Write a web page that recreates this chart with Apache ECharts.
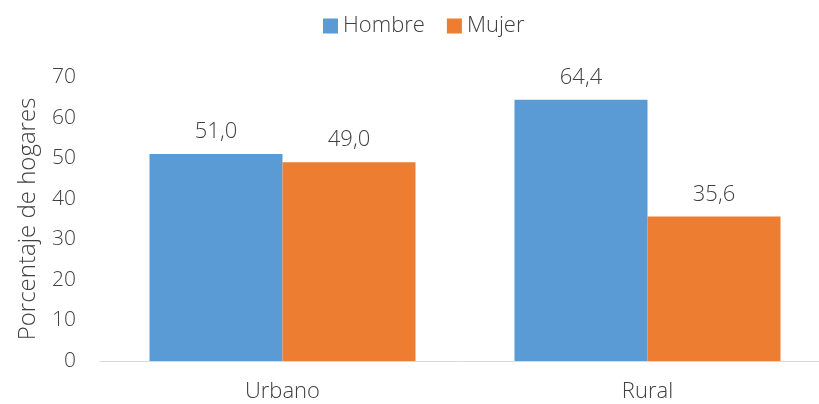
<!DOCTYPE html>
<html>
<head>
<meta charset="utf-8">
<script src="https://cdn.jsdelivr.net/npm/echarts@6/dist/echarts.min.js"></script>
<style>
  html, body { margin: 0; padding: 0; background: #fff; }
  #chart-container { width: 819px; height: 404px; }
</style>
</head>
<body>
<div id="chart-container"></div>
<script>
var categories = ['Urbano', 'Rural'];
var hombre = [51.0, 64.4];
var mujer = [49.0, 35.6];
var yTicks = [0, 10, 20, 30, 40, 50, 60, 70];

var textColor = '#404040';
var fontFamily = '"Open Sans", Lato, sans-serif';

function fmt(p) {
    return p.value.toFixed(1).replace('.', ',');
}

var labelStyle = { color: textColor, fontSize: 22, fontWeight: 300, fontFamily: fontFamily };

var option = {
    animation: false,
    textStyle: { fontFamily: fontFamily },
    color: ['#5B9BD5', '#ED7D31'],
    legend: {
        top: 10,
        left: 318,
        itemWidth: 15,
        itemHeight: 15,
        itemGap: 22,
        icon: 'rect',
        textStyle: { color: textColor, fontSize: 22, fontWeight: 300, fontFamily: fontFamily }
    },
    grid: {
        left: 100,
        width: 730,
        top: 77,
        bottom: 43,
        outerBoundsMode: 'none'
    },
    xAxis: {
        type: 'category',
        data: categories,
        axisLine: { lineStyle: { color: '#D9D9D9', width: 1 } },
        axisTick: { show: false },
        axisLabel: Object.assign({ margin: 20 }, labelStyle)
    },
    yAxis: {
        type: 'value',
        min: yTicks[0],
        max: yTicks[yTicks.length - 1],
        interval: 10,
        name: 'Porcentaje de hogares',
        nameLocation: 'middle',
        nameGap: 60,
        nameRotate: 90,
        nameTextStyle: { color: textColor, fontSize: 24, fontWeight: 300, fontFamily: fontFamily },
        axisLine: { show: false },
        axisTick: { show: false },
        splitLine: { show: false },
        axisLabel: Object.assign({ margin: 24 }, labelStyle, { fontSize: 21 })
    },
    series: [
        {
            name: 'Hombre',
            type: 'bar',
            data: hombre,
            barWidth: 133,
            barGap: '0%',
            label: Object.assign({ show: true, position: 'top', distance: 11, formatter: fmt }, labelStyle)
        },
        {
            name: 'Mujer',
            type: 'bar',
            data: mujer,
            barWidth: 133,
            barGap: '0%',
            label: Object.assign({ show: true, position: 'top', distance: 11, formatter: fmt }, labelStyle)
        }
    ]
};

var myChart = echarts.init(document.getElementById('chart-container'));
myChart.setOption(option);
</script>
</body>
</html>
